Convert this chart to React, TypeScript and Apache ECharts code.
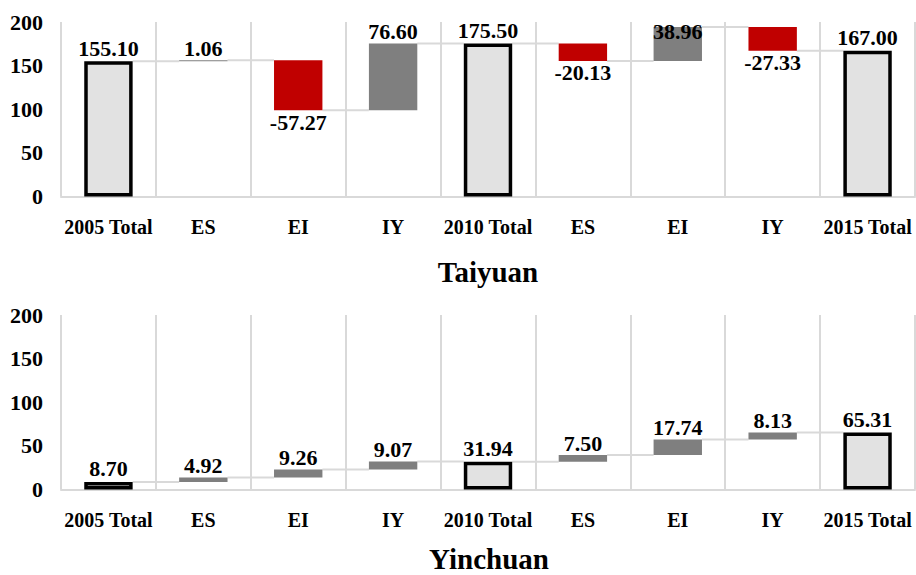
import React, { useEffect, useRef } from "react";
import * as echarts from "echarts";

const categories = ["2005 Total", "ES", "EI", "IY", "2010 Total", "ES", "EI", "IY", "2015 Total"];
const isTotal = [true, false, false, false, true, false, false, false, true];
const taiyuanValues = [155.1, 1.06, -57.27, 76.6, 175.5, -20.13, 38.96, -27.33, 167.0];
const yinchuanValues = [8.7, 4.92, 9.26, 9.07, 31.94, 7.5, 17.74, 8.13, 65.31];
const chartTitles = ["Taiyuan", "Yinchuan"];
const yMin = 0;
const yMax = 200;
const yInterval = 50;

const FONT = "Liberation Serif";
const RED = "#c00000";
const GREY = "#7f7f7f";
const TOTAL_FILL = "#e2e2e2";
const LINE = "#d9d9d9";
const BAR_W = 0.51;

function waterfall(values: number[]) {
  let cum = 0;
  const base: number[] = [];
  const height: number[] = [];
  const ends: number[] = [];
  values.forEach((v, i) => {
    if (isTotal[i]) {
      base.push(0);
      height.push(v);
      cum = v;
    } else {
      const s = cum;
      const e = cum + v;
      base.push(Math.min(s, e));
      height.push(Math.abs(v));
      cum = e;
    }
    ends.push(cum);
  });
  return { base, height, ends };
}

function buildSeries(values: number[], k: number) {
  const { base, height, ends } = waterfall(values);
  const baseSeries = {
    type: "bar",
    name: "base" + k,
    stack: "s" + k,
    xAxisIndex: k,
    yAxisIndex: k,
    barWidth: BAR_W * 100 + "%",
    silent: true,
    itemStyle: { color: "transparent" },
    data: base,
    z: 3,
  };
  const valueSeries = {
    type: "bar",
    name: "value" + k,
    stack: "s" + k,
    xAxisIndex: k,
    yAxisIndex: k,
    barWidth: BAR_W * 100 + "%",
    z: 3,
    data: height.map((h, i) => {
      const v = values[i];
      const total = isTotal[i];
      const neg = !total && v < 0;
      const top = base[i] + h;
      return {
        value: h,
        itemStyle: total
          ? { color: TOTAL_FILL, borderColor: "#000", borderWidth: 3.5 }
          : { color: neg ? RED : GREY },
        label: {
          show: true,
          position: neg ? "bottom" : "top",
          distance: total ? 2 : 1,
          offset: !neg && top > 188 ? [0, 17] : [0, 0],
          formatter: v.toFixed(2),
          fontFamily: FONT,
          fontWeight: "bold",
          fontSize: 22,
          color: "#000",
        },
      };
    }),
  };
  const connector = {
    type: "custom",
    xAxisIndex: k,
    yAxisIndex: k,
    silent: true,
    z: 2,
    encode: { x: 0, y: 1 },
    data: ends.slice(0, -1).map((lvl, i) => [i, lvl]),
    renderItem: (params: any, api: any) => {
      const i = api.value(0);
      const lvl = api.value(1);
      const p = api.coord([i, lvl]);
      const w = api.size([1, 0])[0];
      const bw = w * BAR_W;
      return {
        type: "line",
        shape: { x1: p[0] + bw / 2, y1: p[1], x2: p[0] + w - bw / 2, y2: p[1] },
        style: { stroke: LINE, lineWidth: 2 },
      };
    },
  };
  return [connector, baseSeries, valueSeries];
}

const gridTops = [22, 315];
const gridHeight = 174.5;

export default function App() {
  const ref = useRef<HTMLDivElement>(null);
  useEffect(() => {
    if (!ref.current) return;
    const chart = echarts.init(ref.current, undefined, { renderer: "svg" });
    const xAxes = [0, 1].map((k) => ({
      type: "category",
      gridIndex: k,
      data: categories,
      axisLine: { show: true, lineStyle: { color: LINE, width: 2 } },
      axisTick: { show: false },
      splitLine: { show: true, lineStyle: { color: LINE, width: 2 } },
      axisLabel: {
        interval: 0,
        margin: 20,
        fontFamily: FONT,
        fontWeight: "bold",
        fontSize: 20,
        color: "#000",
      },
    }));
    const yAxes = [0, 1].map((k) => ({
      type: "value",
      gridIndex: k,
      min: yMin,
      max: yMax,
      interval: yInterval,
      axisLine: { show: false },
      axisTick: { show: false },
      splitLine: { show: false },
      axisLabel: {
        margin: 18,
        fontFamily: FONT,
        fontWeight: "bold",
        fontSize: 22,
        color: "#000",
      },
    }));
    chart.setOption({
      animation: false,
      backgroundColor: "#fff",
      grid: gridTops.map((t) => ({ left: 61, right: 1, top: t, height: gridHeight })),
      xAxis: xAxes,
      yAxis: yAxes,
      series: [...buildSeries(taiyuanValues, 0), ...buildSeries(yinchuanValues, 1)],
      graphic: [
        {
          type: "text",
          x: 488,
          y: 272,
          style: {
            text: chartTitles[0],
            fontFamily: FONT,
            fontWeight: "bold",
            fontSize: 29,
            fill: "#000",
            align: "center",
            verticalAlign: "middle",
          },
        },
        {
          type: "text",
          x: 489,
          y: 559,
          style: {
            text: chartTitles[1],
            fontFamily: FONT,
            fontWeight: "bold",
            fontSize: 29,
            fill: "#000",
            align: "center",
            verticalAlign: "middle",
          },
        },
      ],
    });
    return () => chart.dispose();
  }, []);
  return (
    <div
      ref={ref}
      style={{ position: "fixed", left: 0, top: 0, width: 916, height: 575, background: "#fff" }}
    />
  );
}
